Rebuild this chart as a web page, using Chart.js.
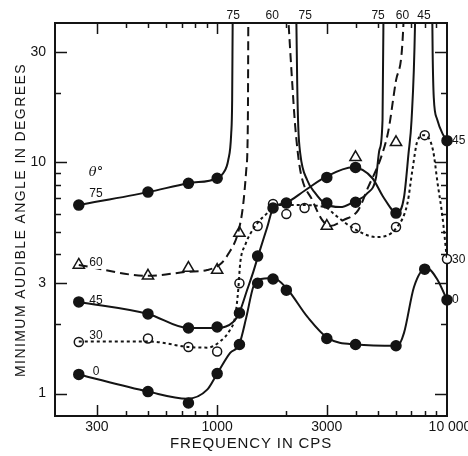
<!DOCTYPE html>
<html>
<head>
<meta charset="utf-8">
<script src="https://cdn.jsdelivr.net/npm/chart.js@4.4.1/dist/chart.umd.min.js"></script>
<style>
  html, body { margin: 0; padding: 0; background: #fff; }
  #wrap { width: 468px; height: 456px; }
</style>
</head>
<body>
<div id="wrap"><canvas id="chart" width="468" height="456"></canvas></div>
<script>
// measured points (frequency in cps, angle in degrees)
const freqs = [250, 500, 750, 1000, 1250, 1500, 1750, 2000, 3000, 4000, 6000, 8000, 10000];
const freqs30 = [250, 500, 750, 1000, 1250, 1500, 1750, 2000, 2400, 4000, 6000, 8000, 10000];
const mark0 = [1.21, 1.02, 0.91, 1.22, 1.63, 3.0, 3.13, 2.8, 1.73, 1.63, 1.61, 3.45, 2.54];
const mark30 = [1.67, 1.73, 1.59, 1.52, 3.0, 5.3, 6.6, 5.97, 6.34, 5.2, 5.25, 13.1, 3.82];
const mark45 = [2.49, 2.21, 1.92, 1.94, 2.23, 3.93, 6.34, 6.66, 8.6, 9.5, 6.03, null, 12.4];
const mark60 = [3.6, 3.23, 3.49, 3.42, 4.94, null, null, null, 5.3, 10.5, 12.2, null, null];
const mark75 = [6.53, 7.43, 8.11, 8.53, null, null, null, null, 6.66, 6.72, null, null, null];

// hand-fitted curves as drawn in the figure
const curve0F = [250, 500, 740, 905, 1000, 1139, 1247, 1338, 1435, 1509, 1754, 2000, 2466, 3024, 4023, 6090, 6500, 7184, 8150, 9100, 10000];
const curve0V = [1.21, 1.02, 0.95, 1.04, 1.22, 1.50, 1.63, 2.13, 2.89, 3.10, 3.16, 2.86, 2.15, 1.74, 1.63, 1.61, 1.83, 2.89, 3.49, 3.10, 2.54];
const curve30F = [250, 500, 755, 905, 1030, 1139, 1198, 1235, 1260, 1324, 1464, 1668, 1790, 2299, 2954, 3265, 3906, 4913, 6060, 6730, 7070, 7440, 7937, 8687, 9100, 9560, 10000];
const curve30V = [1.68, 1.68, 1.59, 1.58, 1.68, 1.89, 2.15, 2.81, 3.67, 4.39, 5.3, 6.09, 6.53, 6.53, 6.40, 5.91, 5.19, 4.75, 5.24, 6.66, 9.24, 12.4, 13.1, 11.3, 8.12, 5.79, 3.78];
const curve45F = [250, 500, 750, 1000, 1174, 1247, 1351, 1435, 1509, 1651, 1754, 1977, 2417, 2954, 3906, 4737, 5290, 6060, 6500, 6800, 7010, 7260, 7300];
const curve45V = [2.49, 2.21, 1.92, 1.92, 2.04, 2.23, 2.81, 3.35, 3.95, 5.24, 6.34, 6.66, 7.57, 8.62, 9.51, 8.53, 7.06, 6.03, 7.06, 10.9, 15.2, 39.7, 60];
const curve45bF = [8600, 8660, 8760, 9050, 9560, 10000];
const curve45bV = [60, 30, 19, 15.4, 13.3, 12.4];
const curve60F = [250, 500, 740, 905, 1030, 1117, 1235, 1297, 1338, 1360, 1368];
const curve60V = [3.6, 3.23, 3.36, 3.42, 3.62, 4.01, 4.99, 6.53, 9.24, 15, 60];
const curve60bF = [2030, 2122, 2187, 2299, 2593, 2866, 3105, 3540, 4110, 4540, 5165, 5560, 6001, 6464, 6520];
const curve60bV = [45, 21.9, 14.2, 9.24, 6.86, 5.62, 5.3, 5.62, 6.21, 7.80, 10.5, 13.7, 22.6, 39.7, 60];
const curve75F = [250, 500, 750, 1000, 1062, 1117, 1151, 1162, 1168, 1172];
const curve75V = [6.53, 7.43, 8.12, 8.53, 8.97, 10.2, 13.3, 18.5, 39.7, 60];
const curve75bF = [2200, 2230, 2254, 2299, 2466, 2672, 2925, 3433, 3906, 4504, 4913, 5080, 5242, 5288, 5300];
const curve75bV = [60, 21.9, 14.2, 10.9, 8.36, 7.35, 6.66, 6.40, 6.72, 7.35, 8.62, 11.3, 15.2, 39.7, 60];

// axes
const xTicks = [300, 400, 500, 600, 700, 800, 900, 1000, 2000, 3000, 4000, 5000, 6000, 7000, 8000, 9000];
const xMajor = [300, 1000, 3000];
const xLabelVals = [300, 1000, 3000, 10000];
const xLabels = ['300', '1000', '3000', '10 000'];
const yTicks = [1, 2, 3, 4, 5, 6, 7, 8, 9, 10, 20, 30];
const yMajor = [1, 3, 10, 30];

// curve labels
const topLabelF = [1174, 1736, 2417, 5014, 6400, 7937];
const topLabels = ['75', '60', '75', '75', '60', '45'];
const leftLabels = ['75', '60', '45', '30', '0'];
const leftLabelV = [7.3, 3.67, 2.52, 1.78, 1.24];
const rightLabels = ['45', '30', '0'];
const rightLabelV = [12.4, 3.8, 2.54];

const ink = '#141414';

function pairs(F, V) {
  const out = [];
  F.forEach((f, i) => { if (V[i] !== null) out.push({ x: f, y: V[i] }); });
  return out;
}

function curve(F, V, dash) {
  return {
    data: pairs(F, V),
    showLine: true,
    borderColor: ink,
    borderWidth: 2,
    borderDash: dash,
    pointRadius: 0,
    cubicInterpolationMode: 'monotone',
    clip: 0,
  };
}

function marks(F, V, style, filled) {
  return {
    data: pairs(F, V),
    showLine: false,
    pointStyle: style,
    pointRadius: style === 'triangle' ? 6.5 : (filled ? 5 : 4.5),
    pointBackgroundColor: filled ? ink : '#fff',
    pointBorderColor: ink,
    pointBorderWidth: 1.5,
    clip: false,
  };
}

function spacedText(ctx, text, cx, cy, width) {
  ctx.letterSpacing = '0px';
  const w0 = ctx.measureText(text).width;
  const sp = (width - w0) / text.length;
  ctx.letterSpacing = sp + 'px';
  ctx.textAlign = 'left';
  ctx.fillText(text, cx - width / 2, cy);
  ctx.letterSpacing = '0px';
}

const framePlugin = {
  id: 'frame',
  beforeDatasetsDraw(chart) {
    const { ctx, chartArea: a, scales: { x, y } } = chart;
    ctx.save();
    ctx.strokeStyle = ink;
    ctx.lineWidth = 2;
    ctx.strokeRect(a.left, a.top, a.right - a.left, a.bottom - a.top);
    ctx.lineWidth = 1.5;
    ctx.beginPath();
    xTicks.forEach(v => {
      const px = Math.round(x.getPixelForValue(v)) + 0.5;
      const len = xMajor.includes(v) ? 11 : 5;
      ctx.moveTo(px, a.bottom); ctx.lineTo(px, a.bottom - len);
      ctx.moveTo(px, a.top); ctx.lineTo(px, a.top + len);
    });
    yTicks.forEach(v => {
      const py = Math.round(y.getPixelForValue(v)) + 0.5;
      const len = yMajor.includes(v) ? 12 : 6;
      ctx.moveTo(a.left, py); ctx.lineTo(a.left + len, py);
      ctx.moveTo(a.right, py); ctx.lineTo(a.right - len, py);
    });
    ctx.stroke();
    ctx.restore();
  },
  afterDraw(chart) {
    const { ctx, chartArea: a, scales: { x, y } } = chart;
    ctx.save();
    ctx.fillStyle = ink;
    ctx.textBaseline = 'middle';

    // tick labels
    ctx.font = '14px "Liberation Sans"';
    ctx.textAlign = 'center';
    xLabelVals.forEach((v, i) => {
      ctx.fillText(xLabels[i], x.getPixelForValue(v) + (i === 3 ? 3 : 0), a.bottom + 11);
    });
    ctx.textAlign = 'right';
    yMajor.forEach(v => ctx.fillText(String(v), a.left - 9, y.getPixelForValue(v)));

    // axis titles
    ctx.font = '15px "Liberation Sans"';
    spacedText(ctx, 'FREQUENCY IN CPS', (a.left + a.right) / 2 + 0, a.bottom + 28, 162);
    ctx.save();
    ctx.translate(21, 220);
    ctx.rotate(-Math.PI / 2);
    ctx.font = '14px "Liberation Sans"';
    spacedText(ctx, 'MINIMUM AUDIBLE ANGLE IN DEGREES', 0, 0, 314);
    ctx.restore();

    // curve labels
    ctx.font = '12px "Liberation Sans"';
    ctx.textAlign = 'center';
    topLabelF.forEach((f, i) => ctx.fillText(topLabels[i], x.getPixelForValue(f), a.top - 7));
    const lx = x.getPixelForValue(300) - 1;
    leftLabels.forEach((t, i) => {
      const py = y.getPixelForValue(leftLabelV[i]);
      if (t === '60') {
        ctx.fillStyle = '#fff';
        ctx.fillRect(lx - 8, py - 6, 16, 12);
        ctx.fillStyle = ink;
      }
      ctx.fillText(t, lx, py);
    });
    ctx.textAlign = 'left';
    rightLabels.forEach((t, i) => ctx.fillText(t, a.right + 5, y.getPixelForValue(rightLabelV[i])));
    ctx.textAlign = 'center';
    ctx.font = 'italic 13px "DejaVu Serif"';
    ctx.fillText('\u03b8\u00b0', lx, y.getPixelForValue(9.0));
    ctx.restore();
  }
};

const datasets = [
  curve(curve0F, curve0V, []),
  curve(curve30F, curve30V, [3, 3]),
  curve(curve45F, curve45V, []),
  curve(curve45bF, curve45bV, []),
  curve(curve60F, curve60V, [9, 5]),
  curve(curve60bF, curve60bV, [9, 5]),
  curve(curve75F, curve75V, []),
  curve(curve75bF, curve75bV, []),
  marks(freqs, mark0, 'circle', true),
  marks(freqs, mark45, 'circle', true),
  marks(freqs, mark75, 'circle', true),
  marks(freqs30, mark30, 'circle', false),
  marks(freqs, mark60, 'triangle', false),
];

new Chart(document.getElementById('chart').getContext('2d'), {
  type: 'scatter',
  data: { datasets: datasets },
  options: {
    responsive: false,
    animation: false,
    layout: { padding: { left: 55, top: 23, right: 21, bottom: 40 } },
    plugins: { legend: { display: false }, tooltip: { enabled: false } },
    scales: {
      x: { type: 'logarithmic', min: 197, max: 10000, display: false },
      y: { type: 'logarithmic', min: 0.8, max: 40, display: false },
    },
  },
  plugins: [framePlugin],
});
</script>
</body>
</html>
